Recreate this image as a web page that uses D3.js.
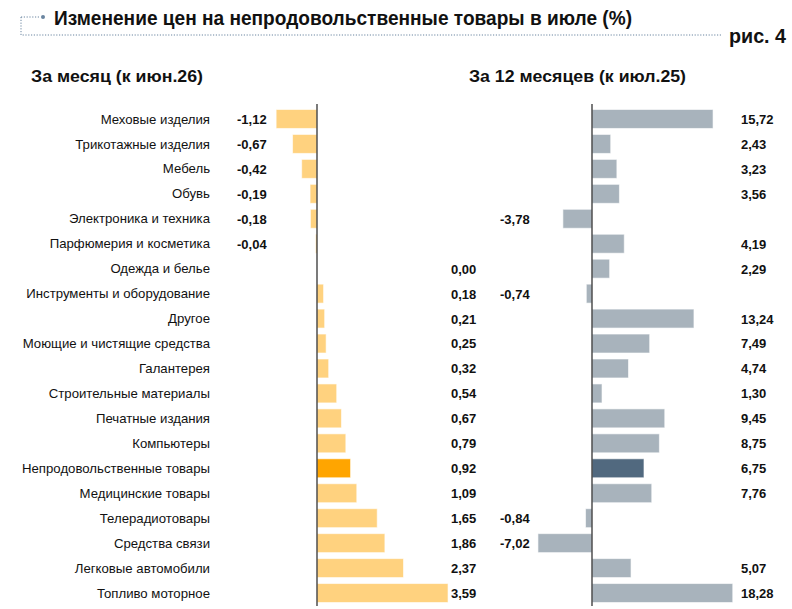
<!DOCTYPE html>
<html>
<head>
<meta charset="utf-8">
<script src="https://cdn.jsdelivr.net/npm/d3@7"></script>
<style>
  html, body { margin: 0; padding: 0; background: #fff; }
  svg { display: block; }
</style>
</head>
<body>
<svg id="chart"></svg>
<script>
// categories (top to bottom)
const categories = [
  "Меховые изделия", "Трикотажные изделия", "Мебель", "Обувь",
  "Электроника и техника", "Парфюмерия и косметика", "Одежда и белье",
  "Инструменты и оборудование", "Другое", "Моющие и чистящие средства",
  "Галантерея", "Строительные материалы", "Печатные издания", "Компьютеры",
  "Непродовольственные товары", "Медицинские товары", "Телерадиотовары",
  "Средства связи", "Легковые автомобили", "Топливо моторное"
];
// за месяц (к июн.26)
const monthValues = [-1.12, -0.67, -0.42, -0.19, -0.18, -0.04, 0.00, 0.18, 0.21, 0.25,
  0.32, 0.54, 0.67, 0.79, 0.92, 1.09, 1.65, 1.86, 2.37, 3.59];
// за 12 месяцев (к июл.25)
const yearValues = [15.72, 2.43, 3.23, 3.56, -3.78, 4.19, 2.29, -0.74, 13.24, 7.49,
  4.74, 1.30, 9.45, 8.75, 6.75, 7.76, -0.84, -7.02, 5.07, 18.28];
const highlight = "Непродовольственные товары";

const width = 792, height = 609;
const svg = d3.select("#chart").attr("width", width).attr("height", height);

const fmt = v => v.toFixed(2).replace(".", ",");
const sans = "'Liberation Sans', Arial, sans-serif";

// title block
const dotColor = "#6a85a0";
svg.append("path")
  .attr("d", "M21,17 H40 M21,17 V35 H722")
  .attr("fill", "none")
  .attr("stroke", dotColor)
  .attr("stroke-width", 1)
  .attr("stroke-dasharray", "1.2,1.6");
svg.append("circle").attr("cx", 43).attr("cy", 17).attr("r", 2).attr("fill", dotColor);

// condensed bold headings: squeeze Liberation Sans Bold to the reference width
function heading(x, yPos, size, len, txt) {
  svg.append("text")
    .attr("x", x).attr("y", yPos)
    .style("font-family", sans).style("font-weight", "bold").style("font-size", size + "px")
    .attr("fill", "#111")
    .attr("textLength", len).attr("lengthAdjust", "spacingAndGlyphs")
    .text(txt);
}

heading(54, 25, 20, 578, "Изменение цен на непродовольственные товары в июле (%)");
heading(729, 43, 20, 57, "рис. 4");
heading(31, 82, 17, 172, "За месяц (к июн.26)");
heading(469, 82, 17, 217, "За 12 месяцев (к июл.25)");

// scales
const y = d3.scaleBand()
  .domain(categories)
  .range([106.5, 605.5])
  .paddingInner(0.24)
  .paddingOuter(0.12);

const xL = d3.scaleLinear().domain([-2, 4]).range([244, 463]);
const xR = d3.scaleLinear().domain([-8, 20]).range([530.4, 746]);

// category labels
svg.append("g")
  .selectAll("text")
  .data(categories)
  .join("text")
  .attr("x", 210)
  .attr("y", d => y(d) + y.bandwidth() / 2)
  .attr("dy", "0.35em")
  .attr("text-anchor", "end")
  .style("font-family", sans).style("font-size", "13.2px")
  .attr("fill", "#111")
  .text(d => d);

function panel(values, x, fill, hiFill, negX, posX) {
  const data = categories.map((c, i) => ({ cat: c, v: values[i] }));
  const g = svg.append("g");

  g.selectAll("rect")
    .data(data)
    .join("rect")
    .attr("x", d => x(Math.min(0, d.v)))
    .attr("y", d => y(d.cat))
    .attr("width", d => Math.abs(x(d.v) - x(0)))
    .attr("height", y.bandwidth())
    .attr("fill", d => d.cat === highlight ? hiFill : fill)
    .attr("stroke", "#fff")
    .attr("stroke-opacity", 0.6)
    .attr("stroke-width", 1);

  // zero line
  g.append("line")
    .attr("x1", x(0)).attr("x2", x(0))
    .attr("y1", 104).attr("y2", 606)
    .attr("stroke", "#333").attr("stroke-width", 1.3);

  g.selectAll("text.val")
    .data(data)
    .join("text")
    .attr("class", "val")
    .attr("x", d => d.v < 0 ? negX : posX)
    .attr("y", d => y(d.cat) + y.bandwidth() / 2)
    .attr("dy", "0.38em")
    .style("font-family", sans).style("font-weight", "bold").style("font-size", "13px")
    .attr("fill", "#111")
    .text(d => fmt(d.v));
}

panel(monthValues, xL, "#ffd27f", "#ffa500", 237, 451);
panel(yearValues, xR, "#a8b3bc", "#51697f", 500, 741);
</script>
</body>
</html>
